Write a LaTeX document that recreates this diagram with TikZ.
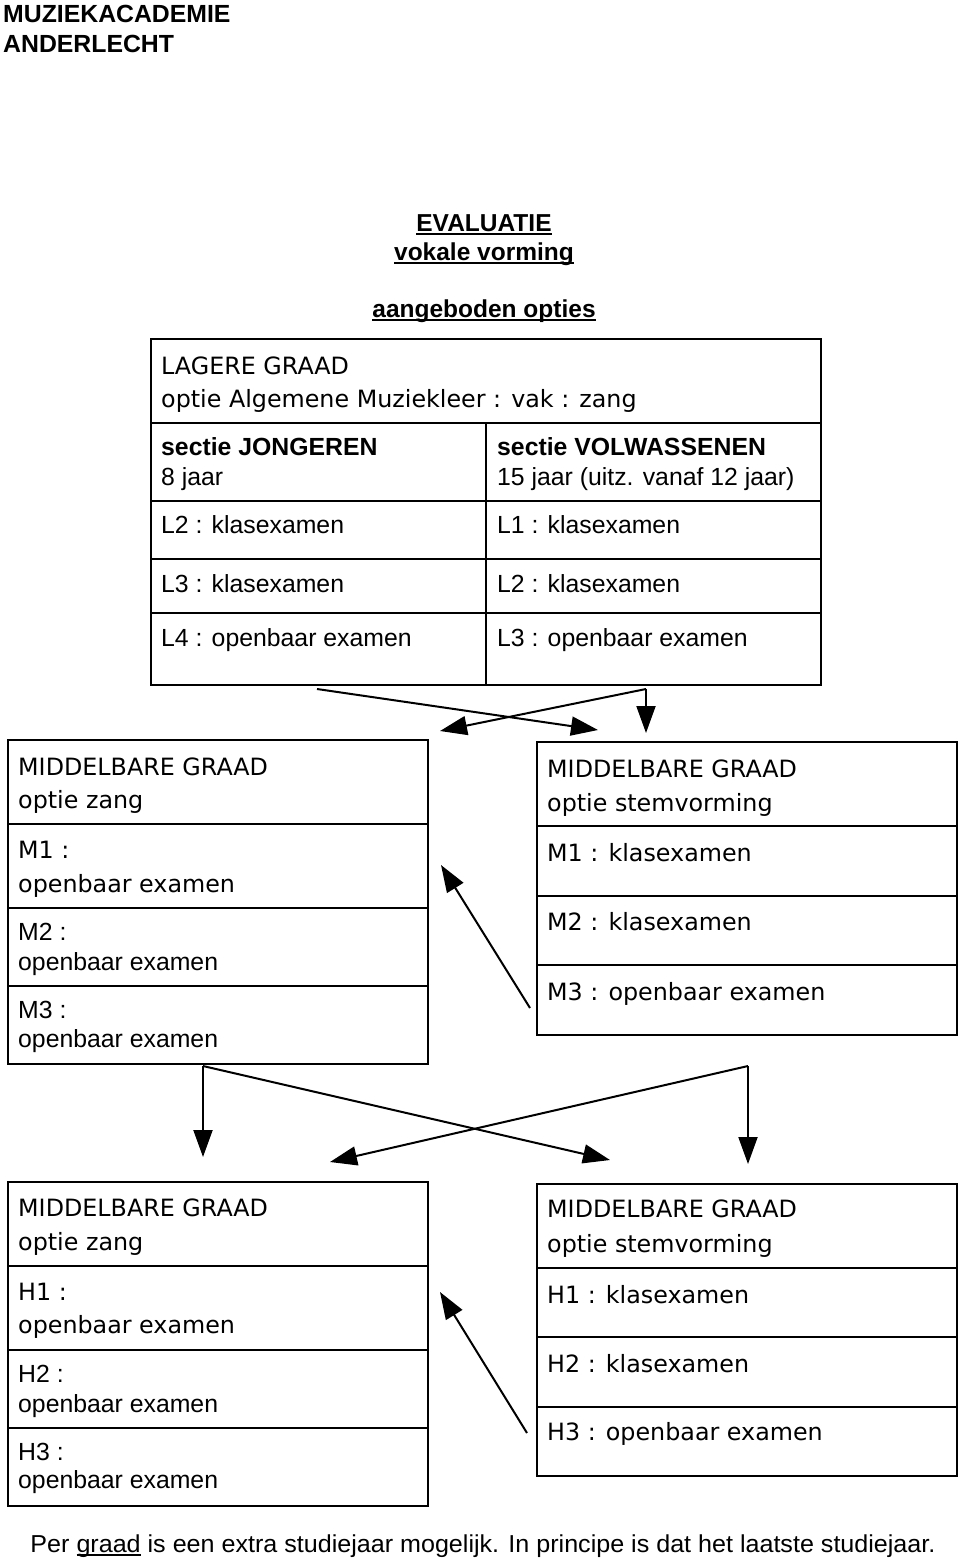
\documentclass[tikz,border=0pt]{standalone}
\usepackage{fontspec}
\usepackage{graphicx}
\setmainfont{Liberation Sans}
\newfontfamily\lucida{DejaVu Sans}
\usetikzlibrary{arrows.meta}
\newcommand{\myul}[1]{\setbox0\hbox{#1}\rlap{\vrule width\wd0 height-2pt depth3.5pt}\box0\relax}
\newcommand{\cell}[5]{\node[cell, minimum width={#4pt-#2pt}, minimum height={#5pt-#3pt}] (#1) at (#2,#3) {};}
\tikzset{
  cell/.style={draw, line width=2.5pt, anchor=north west, inner sep=0pt, outer sep=0pt},
  lu/.style={anchor=base west, inner sep=0pt, font=\lucida\fontsize{23.8}{28}\selectfont},
  hv/.style={anchor=base west, inner sep=0pt, font=\fontsize{24.8}{28}\selectfont},
  hb/.style={anchor=base west, inner sep=0pt, font=\bfseries\fontsize{24.8}{28}\selectfont},
  ttl/.style={anchor=base, inner sep=0pt, font=\bfseries\fontsize{24.5}{28}\selectfont},
  arr/.style={line width=2pt, -{Triangle[length=27pt,width=19pt]}}
}
\begin{document}
\begin{tikzpicture}[x=1pt,y=-1pt]
\useasboundingbox (0,0) rectangle (960,1561);
% titles
\node[hb] (h1) at (3,22) {MUZIEKACADEMIE};
\node[hb] (h2) at (3,52) {ANDERLECHT};
\node[ttl] (t1) at (484,231) {\myul{EVALUATIE}};
\node[ttl] (t2) at (484,260) {\myul{vokale vorming}};
\node[ttl] (t3) at (484,317) {\myul{aangeboden opties}};
% top box
\cell{lg}{151}{339}{821}{423}
\cell{jh}{151}{423}{486}{501}
\cell{vh}{486}{423}{821}{501}
\cell{j1}{151}{501}{486}{559}
\cell{v1}{486}{501}{821}{559}
\cell{j2}{151}{559}{486}{613}
\cell{v2}{486}{559}{821}{613}
\cell{j3}{151}{613}{486}{685}
\cell{v3}{486}{613}{821}{685}
\node[lu] (lgA) at (161,374) {LAGERE GRAAD};
\node[lu] (lgB) at (161,407) {optie Algemene Muziekleer : vak : zang};
\node[hb] (jhA) at (161,455) {sectie JONGEREN};
\node[hv] (jhB) at (161,485) {8 jaar};
\node[hb] (vhA) at (497,455) {sectie VOLWASSENEN};
\node[hv] (vhB) at (497,485) {15 jaar (uitz. vanaf 12 jaar)};
\node[hv] (j1t) at (161,533) {L2 : klasexamen};
\node[hv] (j2t) at (161,592) {L3 : klasexamen};
\node[hv] (j3t) at (161,646) {L4 : openbaar examen};
\node[hv] (v1t) at (497,533) {L1 : klasexamen};
\node[hv] (v2t) at (497,592) {L2 : klasexamen};
\node[hv] (v3t) at (497,646) {L3 : openbaar examen};
% middle left box
\cell{mz}{8}{740}{428}{824}
\cell{mz1}{8}{824}{428}{908}
\cell{mz2}{8}{908}{428}{986}
\cell{mz3}{8}{986}{428}{1064}
\node[lu] (mzA) at (18,775) {MIDDELBARE GRAAD};
\node[lu] (mzB) at (18,808) {optie zang};
\node[lu] (mz1A) at (18,858) {M1 :};
\node[lu] (mz1B) at (18,892) {openbaar examen};
\node[hv] (mz2A) at (18,940) {M2 :};
\node[hv] (mz2B) at (18,970) {openbaar examen};
\node[hv] (mz3A) at (18,1018) {M3 :};
\node[hv] (mz3B) at (18,1047) {openbaar examen};
% middle right box
\cell{ms}{537}{742}{957}{826}
\cell{ms1}{537}{826}{957}{896}
\cell{ms2}{537}{896}{957}{965}
\cell{ms3}{537}{965}{957}{1035}
\node[lu] (msA) at (547,777) {MIDDELBARE GRAAD};
\node[lu] (msB) at (547,811) {optie stemvorming};
\node[lu] (ms1t) at (547,861) {M1 : klasexamen};
\node[lu] (ms2t) at (547,930) {M2 : klasexamen};
\node[lu] (ms3t) at (547,1000) {M3 : openbaar examen};
% bottom left box
\cell{hz}{8}{1182}{428}{1266}
\cell{hz1}{8}{1266}{428}{1350}
\cell{hz2}{8}{1350}{428}{1428}
\cell{hz3}{8}{1428}{428}{1506}
\node[lu] (hzA) at (18,1216) {MIDDELBARE GRAAD};
\node[lu] (hzB) at (18,1250) {optie zang};
\node[lu] (hz1A) at (18,1300) {H1 :};
\node[lu] (hz1B) at (18,1333) {openbaar examen};
\node[hv] (hz2A) at (18,1382) {H2 :};
\node[hv] (hz2B) at (18,1412) {openbaar examen};
\node[hv] (hz3A) at (18,1460) {H3 :};
\node[hv] (hz3B) at (18,1488) {openbaar examen};
% bottom right box
\cell{hs}{537}{1184}{957}{1268}
\cell{hs1}{537}{1268}{957}{1337}
\cell{hs2}{537}{1337}{957}{1407}
\cell{hs3}{537}{1407}{957}{1476}
\node[lu] (hsA) at (547,1217) {MIDDELBARE GRAAD};
\node[lu] (hsB) at (547,1252) {optie stemvorming};
\node[lu] (hs1t) at (547,1303) {H1 : klasexamen};
\node[lu] (hs2t) at (547,1372) {H2 : klasexamen};
\node[lu] (hs3t) at (547,1440) {H3 : openbaar examen};
% footer
\node[anchor=base, inner sep=0pt, font=\fontsize{24.5}{28}\selectfont] (ft) at (483,1552)
  {\resizebox{905pt}{\height}{Per \myul{graad} is een extra studiejaar mogelijk. In principe is dat het laatste studiejaar.}};
% arrow points
\coordinate (a1) at (317,689);
\coordinate (a1t) at (598,730);
\coordinate (a2) at (646,689);
\coordinate (a2t) at (440,731);
\coordinate (a3t) at (646,733);
\coordinate (m1) at (530,1008);
\coordinate (m1t) at (441,865);
\coordinate (b1) at (203,1066);
\coordinate (b1t) at (203,1157);
\coordinate (b2t) at (610,1160);
\coordinate (b3) at (748,1066);
\coordinate (b3t) at (330,1162);
\coordinate (b4t) at (748,1164);
\coordinate (h1s) at (527,1433);
\coordinate (h1e) at (440,1292);
\draw[arr] (a1) -- (a1t);
\draw[arr] (a2) -- (a2t);
\draw[arr] (a2) -- (a3t);
\draw[arr] (m1) -- (m1t);
\draw[arr] (b1) -- (b1t);
\draw[arr] (b1) -- (b2t);
\draw[arr] (b3) -- (b3t);
\draw[arr] (b3) -- (b4t);
\draw[arr] (h1s) -- (h1e);
\end{tikzpicture}
\end{document}
